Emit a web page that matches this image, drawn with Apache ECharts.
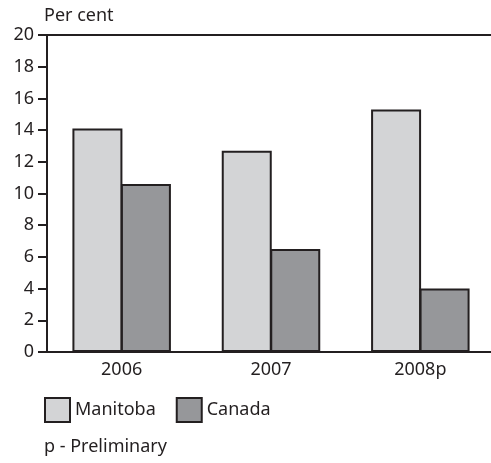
<!DOCTYPE html>
<html>
<head>
<meta charset="utf-8">
<script src="https://cdn.jsdelivr.net/npm/echarts@6/dist/echarts.min.js"></script>
<style>
  html, body { margin: 0; padding: 0; background: #ffffff; }
  #chart { width: 491px; height: 463px; }
</style>
</head>
<body>
<div id="chart"></div>
<script>
// Year categories and percentage values per region
const years = ['2006', '2007', '2008p'];
const manitoba = [14.1, 12.7, 15.3];
const canada = [10.6, 6.5, 4.0];
const yTicks = [0, 2, 4, 6, 8, 10, 12, 14, 16, 18, 20];

const ink = '#231f20';
const font = 'Noto Sans';

const chart = echarts.init(document.getElementById('chart'), null, { renderer: 'canvas' });

chart.setOption({
  animation: false,
  backgroundColor: '#ffffff',
  textStyle: { fontFamily: font, color: ink },
  title: {
    text: 'Per cent',
    left: 39,
    top: 2,
    textStyle: { fontFamily: font, fontSize: 18, fontWeight: 'normal', color: ink }
  },
  // plot frame runs past the right edge of the page, so only top/left/bottom show
  grid: {
    left: 47,
    width: 448,
    top: 35,
    height: 317,
    outerBoundsMode: 'none',
    containLabel: false,
    show: true,
    borderColor: ink,
    borderWidth: 2,
    backgroundColor: 'transparent'
  },
  legend: {
    data: ['Manitoba', 'Canada'],
    left: 39,
    top: 392,
    itemWidth: 25,
    itemHeight: 24,
    itemGap: 20,
    icon: 'rect',
    textStyle: { fontFamily: font, fontSize: 18, color: ink },
    selectedMode: false
  },
  xAxis: {
    type: 'category',
    data: years,
    axisLine: { show: true, lineStyle: { color: ink, width: 2 } },
    axisTick: { show: false },
    axisLabel: { fontFamily: font, fontSize: 18, color: ink, margin: 9 }
  },
  yAxis: {
    type: 'value',
    min: yTicks[0],
    max: yTicks[yTicks.length - 1],
    interval: yTicks[1] - yTicks[0],
    axisLine: { show: true, lineStyle: { color: ink, width: 2 } },
    axisTick: { show: true, length: 9, lineStyle: { color: ink, width: 2 } },
    axisLabel: { fontFamily: font, fontSize: 18, color: ink, margin: 13 },
    splitLine: { show: false }
  },
  series: [
    {
      name: 'Manitoba',
      type: 'bar',
      data: manitoba,
      barWidth: 50,
      barGap: '-3%',
      itemStyle: { color: '#d3d4d6', borderColor: ink, borderWidth: 2 }
    },
    {
      name: 'Canada',
      type: 'bar',
      data: canada,
      barWidth: 50,
      itemStyle: { color: '#96979a', borderColor: ink, borderWidth: 2 }
    }
  ],
  graphic: [
    {
      type: 'text',
      left: 44,
      top: 438,
      style: { text: 'p - Preliminary', font: '18px "Noto Sans"', fill: ink }
    }
  ]
});
</script>
</body>
</html>
